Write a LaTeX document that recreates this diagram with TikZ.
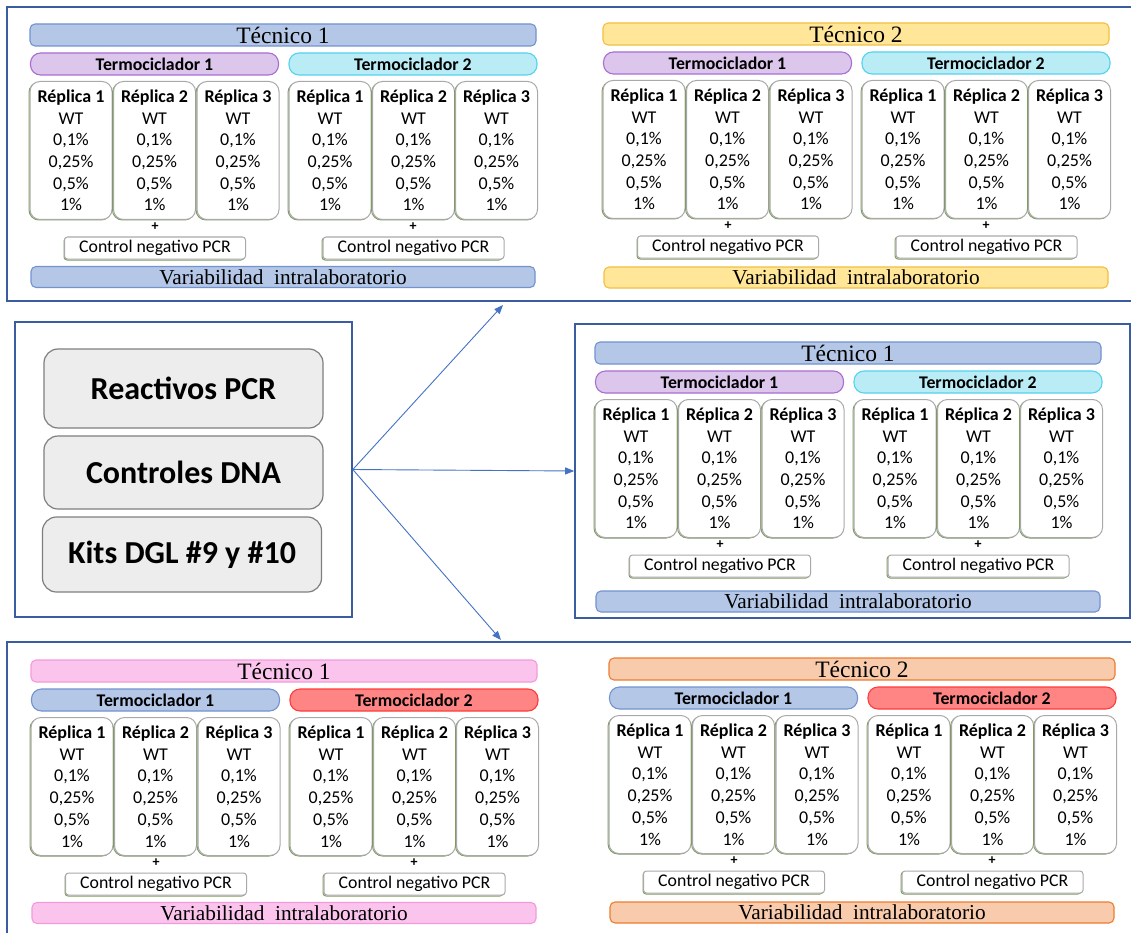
\documentclass[tikz,border=0pt]{standalone}
\usepackage{fontspec}
\setmainfont{Liberation Serif}
\newfontfamily\calibri{Carlito}
\usetikzlibrary{arrows.meta}

\definecolor{frameC}{HTML}{3B5CA0}
\definecolor{arrC}{HTML}{4472C4}
\definecolor{blueF}{HTML}{B4C7E7}\definecolor{blueD}{HTML}{7393CF}
\definecolor{purpF}{HTML}{DCC6EC}\definecolor{purpD}{HTML}{A86ED4}
\definecolor{cyanF}{HTML}{B9ECF5}\definecolor{cyanD}{HTML}{55D2EE}
\definecolor{yellF}{HTML}{FFE699}\definecolor{yellD}{HTML}{F2C040}
\definecolor{pinkF}{HTML}{FBC4EC}\definecolor{pinkD}{HTML}{F29ADC}
\definecolor{peachF}{HTML}{F8CBAD}\definecolor{peachD}{HTML}{ED7D31}
\definecolor{redF}{HTML}{FF8585}\definecolor{redD}{HTML}{FF3B3B}
\definecolor{replD}{HTML}{A9A9A9}\definecolor{replG}{HTML}{7E9C62}
\definecolor{srcF}{HTML}{EDEDED}\definecolor{srcD}{HTML}{7F7F7F}

\tikzset{
 tecbar/.style={rectangle, rounded corners=5pt, minimum width=506pt, minimum height=22pt, inner sep=0pt, line width=1.1pt, font=\fontsize{23.5}{25}\selectfont},
 varbar/.style={rectangle, rounded corners=5pt, minimum width=504pt, minimum height=21pt, inner sep=0pt, line width=1.1pt, font=\fontsize{21.3}{23}\selectfont},
 termobar/.style={rectangle, rounded corners=10pt, minimum width=248pt, minimum height=22pt, inner sep=0pt, line width=1.1pt, font=\calibri\bfseries\fontsize{17.8}{20}\selectfont},
 replbox/.style={rectangle, rounded corners=10pt, draw=replD, fill=white, line width=1pt, minimum width=82pt, minimum height=138pt, inner sep=0pt, align=center, font=\calibri\fontsize{18}{21.7}\selectfont},
 gedge/.style={draw=replG, line width=1pt},
 ctrlbox/.style={rectangle, rounded corners=3pt, draw=replD, fill=white, line width=1pt, minimum width=181pt, minimum height=22pt, inner sep=0pt, font=\calibri\fontsize{17.8}{20}\selectfont},
 plusnode/.style={inner sep=0pt, font=\calibri\bfseries\fontsize{14}{16}\selectfont},
 srcbox/.style={rectangle, rounded corners=14pt, draw=srcD, fill=srcF, line width=1.2pt, minimum width=279pt, inner sep=0pt, font=\calibri\bfseries\fontsize{32}{36}\selectfont},
 frameline/.style={draw=frameC, line width=1.6pt},
 arr/.style={draw=arrC, line width=0.9pt, -{Triangle[length=9pt,width=7pt]}},
}

\newcommand{\drawpanel}[8]{%
\begin{scope}[shift={(#2,#3)}]
\node[tecbar, fill=#5F, draw=#5D] (#1tec) at (253,11) {Técnico #4};
\node[termobar, fill=#6F, draw=#6D] (#1tA) at (124.5,40) {Termociclador 1};
\node[termobar, fill=#7F, draw=#7D] (#1tB) at (383,40) {Termociclador 2};
\foreach \cx/\nn/\id in {41/1/1,124.5/2/2,208/3/3,300/1/4,383.5/2/5,466.5/3/6}{
 \draw[gedge, rounded corners=10pt] (\cx-42,58.5) rectangle (\cx+40,196);
 \node[replbox] (#1r\id) at (\cx,126.5) {\textbf{Réplica \nn}\\WT\\0,1\%\\0,25\%\\0,5\%\\1\%};
}
\node[plusnode] (#1pA) at (125,203) {+};
\node[plusnode] (#1pB) at (383,203) {+};
\draw[gedge, rounded corners=3pt] (34,214) rectangle (214,236);
\node[ctrlbox] (#1cA) at (125,224) {Control negativo PCR};
\draw[gedge, rounded corners=3pt] (292,214) rectangle (472,236);
\node[ctrlbox] (#1cB) at (383.5,224) {Control negativo PCR};
\node[varbar, fill=#5F, draw=#5D] (#1var) at (253,#8) {Variabilidad~~intralaboratorio};
\end{scope}}

\begin{document}
\begin{tikzpicture}[x=1pt,y=-1pt]
\useasboundingbox[fill=white] (0,0) rectangle (1131,933);
% frames
\draw[frameline] (1131,7) -| (7,301) -- (1131,301);
\node[frameline, rectangle, minimum width=337pt, minimum height=295pt, inner sep=0pt] (src) at (183.5,469.5) {};
\node[frameline, rectangle, minimum width=555pt, minimum height=294pt, inner sep=0pt] (mrframe) at (852.5,471) {};
\draw[frameline] (1131,642) -| (7,933);

% source boxes
\node[srcbox, minimum height=79pt] (reac) at (183.5,388.5) {Reactivos PCR};
\node[srcbox, minimum height=73pt] (ctrl) at (183.5,472.5) {Controles DNA};
\node[srcbox, minimum height=75pt] (kits) at (182,554.5) {Kits DGL \#9 y \#10};

% arrows
\coordinate (intop) at (503,305);
\coordinate (inbot) at (501,640);
\draw[arr] (src.east) -- (intop);
\draw[arr] (src.east) -- (mrframe.west);
\draw[arr] (src.east) -- (inbot);

% panels
\drawpanel{tl}{30}{24}{1}{blue}{purp}{cyan}{253}
\drawpanel{tr}{603}{23}{2}{yell}{purp}{cyan}{254.5}
\drawpanel{mr}{595}{342}{1}{blue}{purp}{cyan}{259.5}
\drawpanel{bl}{31}{660}{1}{pink}{blue}{red}{253}
\drawpanel{br}{609}{658}{2}{peach}{blue}{red}{254.5}
\end{tikzpicture}
\end{document}
